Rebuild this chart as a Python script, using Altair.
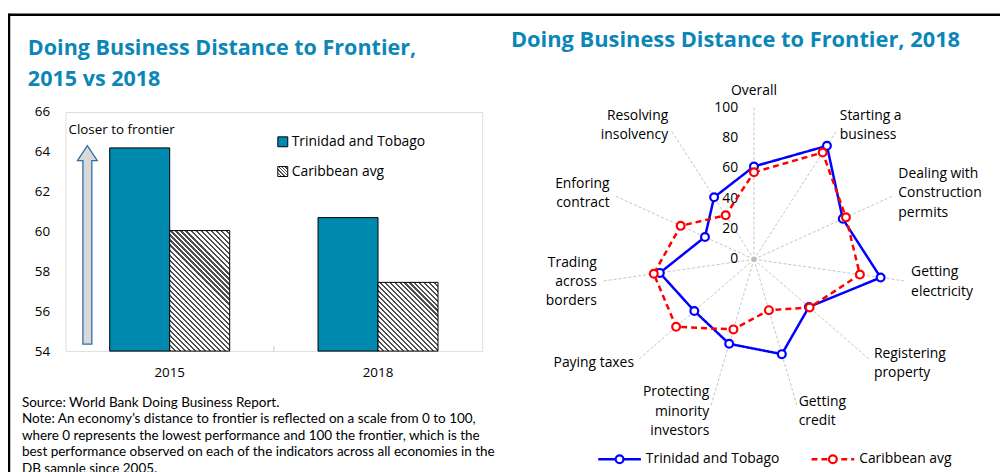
import math
import altair as alt
import pandas as pd

# ---------------- data ----------------
years = ["2015", "2018"]
series = ["Trinidad and Tobago", "Caribbean avg"]
tt_dtf = [64.2, 60.7]
car_dtf = [60.05, 57.45]

indicators = [
    "Overall", "Starting a\nbusiness", "Dealing with\nConstruction\npermits",
    "Getting\nelectricity", "Registering\nproperty", "Getting\ncredit",
    "Protecting\nminority\ninvestors", "Paying taxes", "Trading\nacross\nborders",
    "Enforing\ncontract", "Resolving\ninsolvency",
]
tt_radar = [61.2, 88.9, 64.3, 84.3, 47.9, 65.1, 58.0, 52.0, 62.7, 35.5, 48.6]
car_radar = [57.4, 83.7, 66.6, 70.5, 48.5, 34.9, 48.1, 67.9, 66.7, 53.1, 34.5]
radar_ticks = [0, 20, 40, 60, 80, 100]

left_title = ["Doing Business Distance to Frontier,", "2015 vs 2018"]
right_title = "Doing Business Distance to Frontier, 2018"
arrow_label = "Closer to frontier"
note_lines = [
    "Source: World Bank Doing Business Report.",
    "Note: An economy\u2019s distance to frontier is reflected on a scale from 0 to 100,",
    "where 0 represents the lowest performance and 100 the frontier, which is the",
    "best performance observed on each of the indicators across all economies in the",
    "DB sample since 2005.",
]

# ---------------- style / layout ----------------
FONT = "Open Sans"
NOTE_FONT = "Lato"
TITLE_COLOR = "#0B87B7"
BAR_COLOR = "#0089AF"
HATCH_DARK = "#505050"
BLUE = "#0000FF"
RED = "#FF0000"
GRID = "#C4C4C4"

PAGE_MARGIN = 8
PL, PT = 66, 111          # plot-area origin on the page
W, H = 420, 241
CANVAS_W, CANVAS_H = 1000, 464
Y_MIN, Y_MAX = 54, 66
P_INNER, P_OUTER = 0.424, 0.212

# radar geometry (page coordinates)
RCX, RCY = 760, 259.5
PX_PER_UNIT = 1.53
LABEL_R = 160 / PX_PER_UNIT
LABEL_LH = 19.5
N_AX = len(indicators)


def rx(px):
    return px - PL


def ry(py):
    return py - PT


# radar scale domains so that the centre lands on (RCX, RCY)
cx_rel, cy_rel = RCX - PL, RCY - PT
RX_DOM = [-cx_rel / PX_PER_UNIT, (W - cx_rel) / PX_PER_UNIT]
RY_DOM = [-(H - cy_rel) / PX_PER_UNIT, cy_rel / PX_PER_UNIT]

# ---------------- bar chart ----------------
bar_df = pd.DataFrame({
    "year": years * 2,
    "series": [series[0]] * len(years) + [series[1]] * len(years),
    "value": tt_dtf + car_dtf,
})

step = W / (len(years) - P_INNER + 2 * P_OUTER)
BAR_W = step * (1 - P_INNER) / len(series)


def hatch(w, h, period=5.0, dark=0.42):
    s = (w + h) / (w * w + h * h)
    n = max(1, round((w + h) / period))
    stops = []
    for k in range(n):
        a, b, c = k / n, (k + dark) / n, (k + 1) / n
        stops += [
            {"offset": a, "color": HATCH_DARK},
            {"offset": b, "color": HATCH_DARK},
            {"offset": b, "color": "#FFFFFF"},
            {"offset": c, "color": "#FFFFFF"},
        ]
    return {"gradient": "linear", "x1": 0, "y1": 1, "x2": w * s, "y2": 1 - h * s,
            "stops": stops}


x_enc = alt.X("year:N", scale=alt.Scale(domain=years, paddingInner=P_INNER, paddingOuter=P_OUTER),
              axis=alt.Axis(title=None, labelAngle=0, ticks=False, domain=False, grid=False,
                            labelPadding=15, labelFontSize=13.5, labelFont=FONT, labelColor="#000"))
xo_enc = alt.XOffset("series:N", scale=alt.Scale(domain=series, paddingInner=0, paddingOuter=0))
y_enc = alt.Y("value:Q", scale=alt.Scale(domain=[Y_MIN, Y_MAX], nice=False, zero=False),
              axis=alt.Axis(title=None, values=list(range(Y_MIN, Y_MAX + 1, 2)), ticks=False,
                            domain=False, grid=False, labelPadding=16, labelFontSize=13.5,
                            labelFont=FONT, labelColor="#000"))

base_bar = alt.Chart(bar_df).encode(x=x_enc, xOffset=xo_enc, y=y_enc, y2=alt.datum(Y_MIN))
bars = [base_bar.transform_filter(alt.datum.series == series[0]).mark_bar(
    fill=BAR_COLOR, stroke="#000", strokeWidth=1)]
for yr, v in zip(years, car_dtf):
    h = (v - Y_MIN) * H / (Y_MAX - Y_MIN)
    bars.append(base_bar.transform_filter(
        (alt.datum.series == series[1]) & (alt.datum.year == yr)
    ).mark_bar(fill=hatch(BAR_W, h), stroke="#000", strokeWidth=1))
bar_layer = alt.layer(*bars)

# ---------------- radar ----------------
rows = []
for name, vals in zip(series, [tt_radar, car_radar]):
    for i, v in enumerate(vals + vals[:1]):
        rows.append({"series": name, "idx": i, "value": v})
radar_df = pd.DataFrame(rows)
ax_df = pd.DataFrame({"idx": list(range(N_AX)), "label": indicators,
                      "nl": [lab.count("\n") for lab in indicators]})
tick_df = pd.DataFrame({"tick": radar_ticks})

xs = alt.Scale(domain=RX_DOM, nice=False, zero=False)
ys = alt.Scale(domain=RY_DOM, nice=False, zero=False)
theta_expr = f"datum.idx * 2 * PI / {N_AX}"

spokes = alt.Chart(ax_df).transform_calculate(
    th=theta_expr,
).transform_calculate(
    sx="100 * sin(datum.th)", sy="100 * cos(datum.th)", z0="0",
).mark_rule(stroke=GRID, strokeWidth=1, strokeDash=[3, 2]).encode(
    x=alt.X("z0:Q", scale=xs, axis=None), y=alt.Y("z0:Q", scale=ys, axis=None),
    x2="sx:Q", y2="sy:Q")

center_dot = alt.Chart(pd.DataFrame({"c": [0]})).mark_point(
    filled=True, color="#BDBDBD", size=28, opacity=1).encode(
    x=alt.X("c:Q", scale=xs, axis=None), y=alt.Y("c:Q", scale=ys, axis=None))

ticks_txt = alt.Chart(tick_df).transform_calculate(z="0").mark_text(
    align="right", baseline="middle", dx=-16, fontSize=14, font=FONT, color="#000").encode(
    x=alt.X("z:Q", scale=xs, axis=None), y=alt.Y("tick:Q", scale=ys, axis=None),
    text="tick:Q")

lab_base = alt.Chart(ax_df).transform_calculate(th=theta_expr).transform_calculate(
    lx=f"{LABEL_R} * sin(datum.th)",
    ly=f"{LABEL_R} * cos(datum.th) + datum.nl * {LABEL_LH / 2 / PX_PER_UNIT}",
    s="sin(datum.th)")
lab_enc = dict(x=alt.X("lx:Q", scale=xs, axis=None), y=alt.Y("ly:Q", scale=ys, axis=None),
               text="label:N")
lab_kw = dict(fontSize=14, font=FONT, color="#000", lineBreak="\n", lineHeight=LABEL_LH)
labels_right = lab_base.transform_filter("datum.s > 0.1").mark_text(
    align="left", baseline="middle", **lab_kw).encode(**lab_enc)
labels_left = lab_base.transform_filter("datum.s < -0.1").mark_text(
    align="right", baseline="middle", **lab_kw).encode(**lab_enc)
labels_top = lab_base.transform_filter("abs(datum.s) <= 0.1").mark_text(
    align="center", baseline="bottom", dy=-3, **lab_kw).encode(**lab_enc)

color_scale = alt.Scale(domain=series, range=[BLUE, RED])
dash_scale = alt.Scale(domain=series, range=[[1, 0], [6, 4]])

radar_base = alt.Chart(radar_df).transform_calculate(th=theta_expr).transform_calculate(
    px="datum.value * sin(datum.th)", py="datum.value * cos(datum.th)")
radar_marks = []
for name in series:
    sub = radar_base.transform_filter(alt.datum.series == name)
    radar_marks.append(sub.mark_line(strokeWidth=2.5).encode(
        x=alt.X("px:Q", scale=xs, axis=None), y=alt.Y("py:Q", scale=ys, axis=None),
        order="idx:Q",
        stroke=alt.Stroke("series:N", scale=color_scale, legend=None),
        strokeDash=alt.StrokeDash("series:N", scale=dash_scale, legend=None)))
    radar_marks.append(sub.transform_filter(f"datum.idx < {N_AX}").mark_point(
        filled=True, fill="#FFFFFF", size=62, strokeWidth=2.2, opacity=1).encode(
        x=alt.X("px:Q", scale=xs, axis=None), y=alt.Y("py:Q", scale=ys, axis=None),
        stroke=alt.Stroke("series:N", scale=color_scale, legend=None)))

radar_layer = alt.layer(spokes, center_dot, ticks_txt, labels_right, labels_left, labels_top,
                        *radar_marks)

# ---------------- decorations (pixel placed) ----------------
def one(**kw):
    return alt.Chart(pd.DataFrame([kw]))


deco = []
# outer frame lines
deco.append(one(a=0).mark_rule(stroke="#000", strokeWidth=2.5).encode(
    x=alt.value(rx(PAGE_MARGIN)), x2=alt.value(rx(PAGE_MARGIN + CANVAS_W)),
    y=alt.value(ry(13)), y2=alt.value(ry(13))))
deco.append(one(a=0).mark_rule(stroke="#000", strokeWidth=2.5).encode(
    x=alt.value(rx(9)), x2=alt.value(rx(9)),
    y=alt.value(ry(12)), y2=alt.value(ry(480))))
# small inward tick between the two year categories
deco.append(one(a=0).mark_rule(stroke="#BFBFBF", strokeWidth=1).encode(
    x=alt.value(W / 2), x2=alt.value(W / 2), y=alt.value(H - 5), y2=alt.value(H)))

# titles
deco.append(one(t="\n".join(left_title)).mark_text(
    align="left", baseline="alphabetic", font="Open Sans", fontWeight="bold", fontSize=21.7,
    color=TITLE_COLOR, lineBreak="\n", lineHeight=31).encode(
    x=alt.value(rx(28)), y=alt.value(ry(54)), text="t:N"))
deco.append(one(t=right_title).mark_text(
    align="left", baseline="alphabetic", font="Open Sans", fontWeight="bold", fontSize=22,
    color=TITLE_COLOR).encode(x=alt.value(rx(515)), y=alt.value(ry(45.5)), text="t:N"))

# "closer to frontier" arrow
deco.append(one(t=arrow_label).mark_text(
    align="left", baseline="middle", font=FONT, fontSize=13.5, color="#000").encode(
    x=alt.value(rx(69)), y=alt.value(ry(129)), text="t:N"))
ARROW_PATH = ("M-0.045,1 L0.045,1 L0.045,-0.85 L0.1,-0.85 L0,-1 "
              "L-0.1,-0.85 L-0.045,-0.85 Z")
deco.append(one(a=0).mark_point(
    shape=ARROW_PATH, size=200 * 200, filled=True, fill="#D9D9D9", stroke="#2F6EA5",
    strokeWidth=1.3, opacity=1).encode(x=alt.value(rx(88)), y=alt.value(ry(245))))

# bar legend
deco.append(one(a=0).mark_rect(fill=BAR_COLOR, stroke="#000", strokeWidth=1).encode(
    x=alt.value(rx(280)), x2=alt.value(rx(290)), y=alt.value(ry(136)), y2=alt.value(ry(146))))
deco.append(one(a=0).mark_rect(fill=hatch(10, 10, period=3.4, dark=0.4), stroke="#000",
                               strokeWidth=1).encode(
    x=alt.value(rx(280)), x2=alt.value(rx(290)), y=alt.value(ry(166)), y2=alt.value(ry(176))))
for i, name in enumerate(series):
    deco.append(one(t=name).mark_text(
        align="left", baseline="middle", font=FONT, fontSize=14, color="#000").encode(
        x=alt.value(rx(294)), y=alt.value(ry(141 + 30 * i)), text="t:N"))

# source / note
deco.append(one(t="\n".join(note_lines)).mark_text(
    align="left", baseline="alphabetic", font=NOTE_FONT, fontSize=13.6, color="#000",
    lineBreak="\n", lineHeight=16.6).encode(
    x=alt.value(rx(22)), y=alt.value(ry(408)), text="t:N"))

# radar legend
leg_x = [603, 818]
for i, name in enumerate(series):
    col = [BLUE, RED][i]
    dash = [[1, 0], [6, 4]][i]
    x0 = leg_x[i]
    deco.append(one(a=0).mark_rule(stroke=col, strokeWidth=2.5, strokeDash=dash).encode(
        x=alt.value(rx(x0)), x2=alt.value(rx(x0 + 43)), y=alt.value(ry(461)),
        y2=alt.value(ry(461))))
    deco.append(one(a=0).mark_point(filled=True, fill="#FFFFFF", stroke=col, size=62,
                                     strokeWidth=2.2, opacity=1).encode(
        x=alt.value(rx(x0 + 21.5)), y=alt.value(ry(461))))
    deco.append(one(t=name).mark_text(
        align="left", baseline="middle", font=FONT, fontSize=14, color="#000").encode(
        x=alt.value(rx(x0 + 48)), y=alt.value(ry(461)), text="t:N"))

chart = alt.layer(bar_layer, radar_layer, *deco).resolve_scale(
    x="independent", y="independent"
).properties(
    width=W, height=H,
    autosize=alt.AutoSizeParams(type="none"),
    padding={"left": PL - PAGE_MARGIN, "top": PT - PAGE_MARGIN,
             "right": CANVAS_W - (PL - PAGE_MARGIN) - W,
             "bottom": CANVAS_H - (PT - PAGE_MARGIN) - H},
).configure_view(stroke="#BFBFBF", strokeWidth=1).configure(background="white")

chart.save("out.html", embed_options={"renderer": "svg", "actions": False})
